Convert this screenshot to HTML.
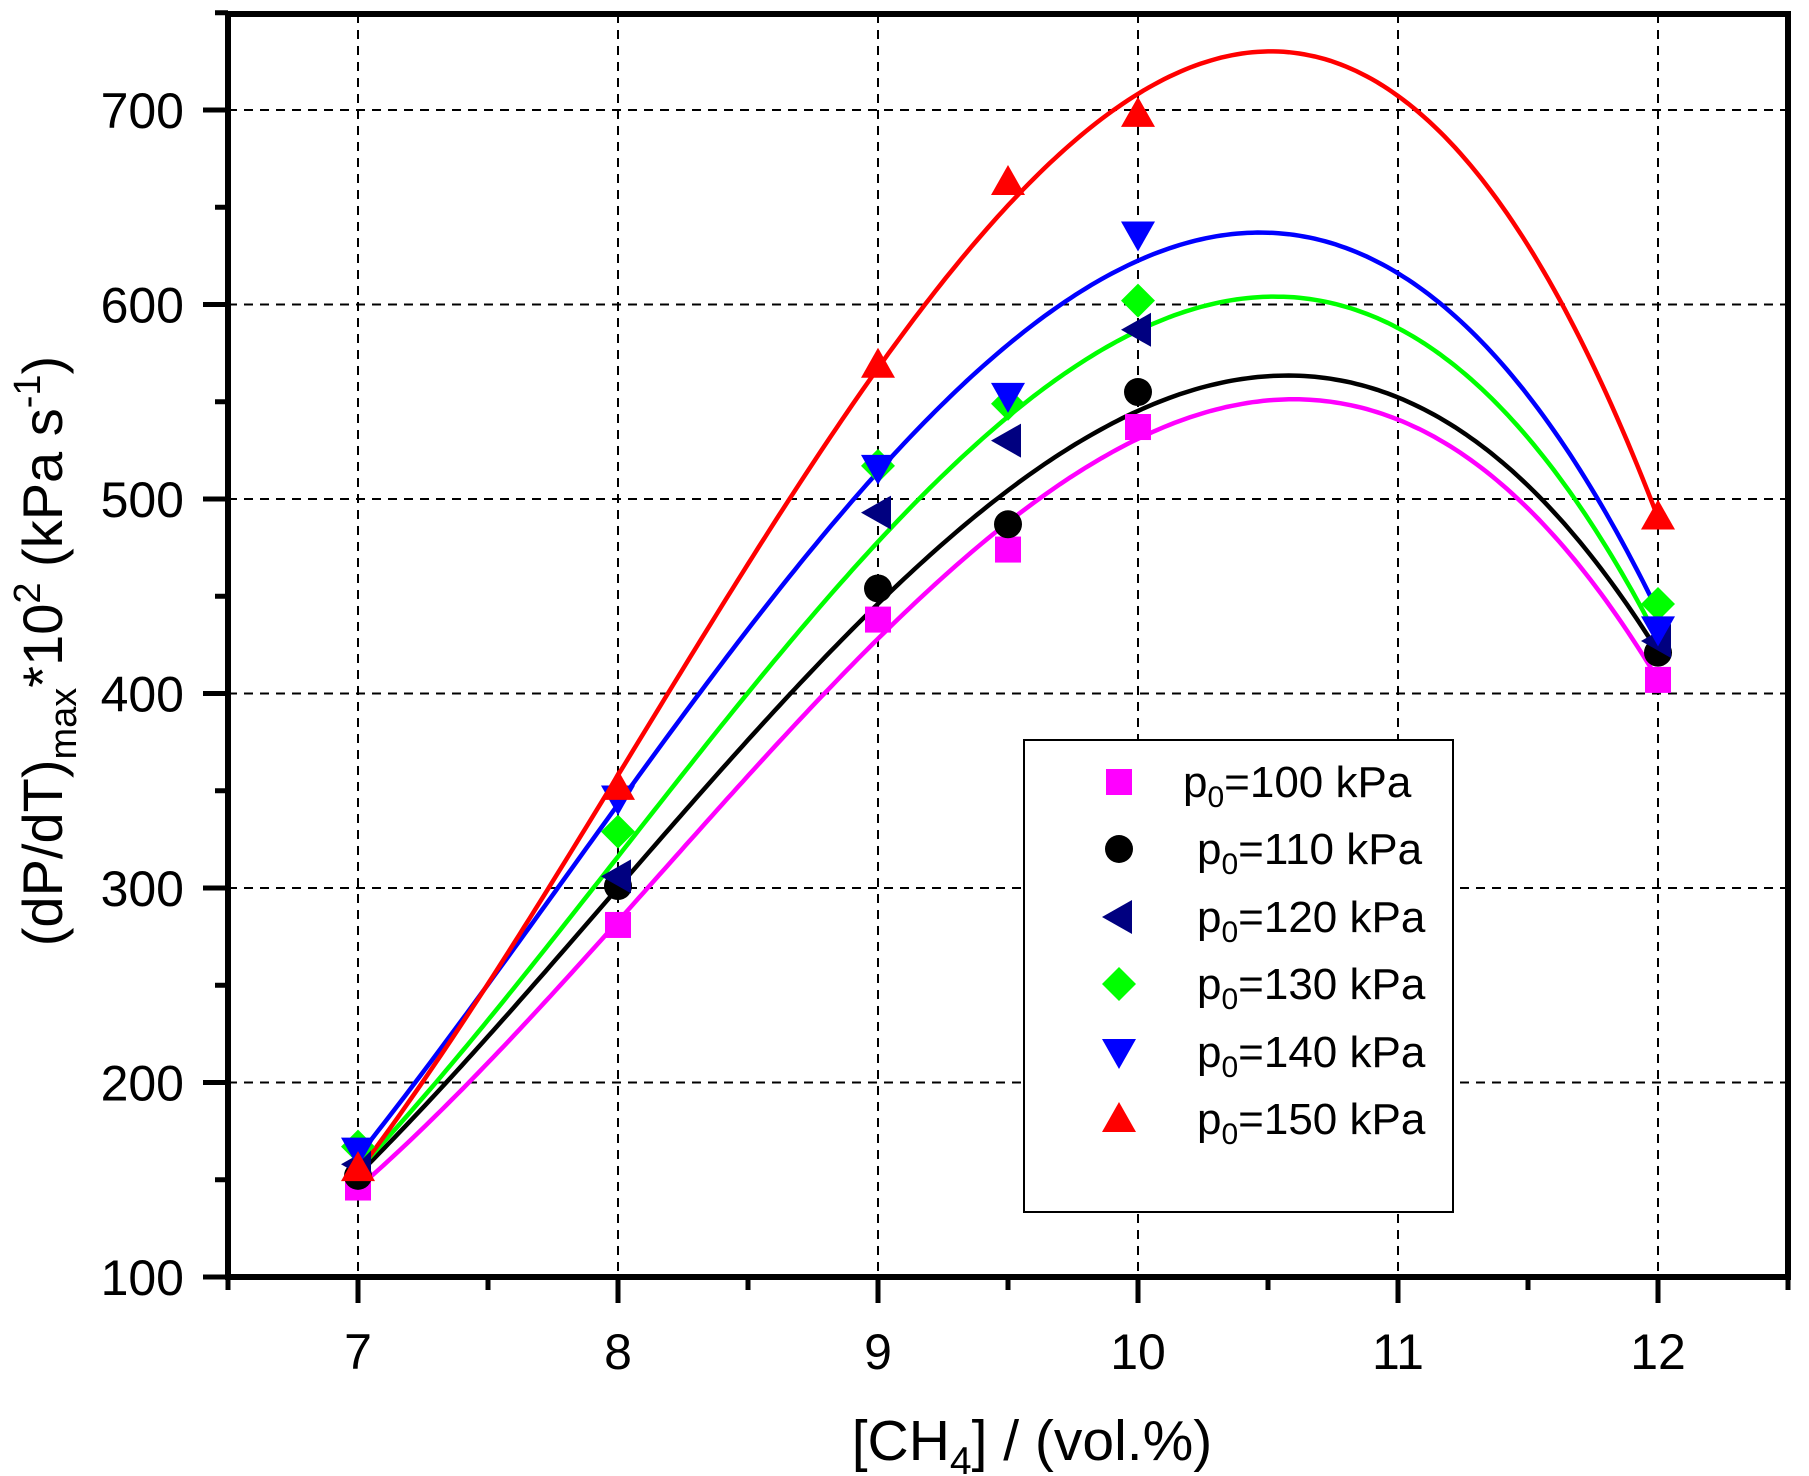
<!DOCTYPE html>
<html><head><meta charset="utf-8"><style>
html,body{margin:0;padding:0;background:#fff}
svg{display:block;font-family:"Liberation Sans",Arial,sans-serif}
</style></head><body>
<svg id="s" width="1809" height="1476" viewBox="0 0 1809 1476" xmlns="http://www.w3.org/2000/svg">
<rect width="1809" height="1476" fill="#fff"/>
<g id="grid" stroke="#000" stroke-width="2" stroke-dasharray="9,7"></g>
<g id="curves" fill="none" stroke-width="4.5"></g>
<g id="marks"></g>
<g id="axes" stroke="#000" stroke-width="6" fill="none"></g>
<g id="lbl" font-size="50" fill="#000"></g>
<text x="1032" y="1460" font-size="57" text-anchor="middle">[CH<tspan font-size="39" dy="14">4</tspan><tspan dy="-14">] / (vol.%)</tspan></text>
<text transform="translate(62,651) rotate(-90)" font-size="56" text-anchor="middle">(dP/dT)<tspan font-size="38" dy="14">max</tspan><tspan dy="-14">*10</tspan><tspan font-size="38" dy="-22">2</tspan><tspan dy="22"> (kPa s</tspan><tspan font-size="38" dy="-22">-1</tspan><tspan dy="22">)</tspan></text>
<rect x="1024" y="740" width="429" height="472" fill="#fff" stroke="#000" stroke-width="2"/>
<g id="leg" font-size="44"></g>
</svg>
<script>
const NS="http://www.w3.org/2000/svg";
const X=v=>358+(v-7)*260, Y=v=>1277-(v-100)*1.945;
function el(p,t,a){const e=document.createElementNS(NS,t);for(const k in a)e.setAttribute(k,a[k]);document.getElementById(p).appendChild(e);return e;}
for(let v=7;v<=12;v++)el("grid","line",{x1:X(v),x2:X(v),y1:14,y2:1277});
for(let v=200;v<=700;v+=100)el("grid","line",{x1:228,x2:1788,y1:Y(v),y2:Y(v)});
el("axes","path",{d:"M228,14H1788V1277H228Z"});
for(let v=7;v<=12;v++){el("axes","line",{x1:X(v),x2:X(v),y1:1277,y2:1303,"stroke-width":5});
 const t=el("lbl","text",{x:X(v),y:1369,"text-anchor":"middle"});t.textContent=v;}
for(let v=7.5;v<=12.5;v+=1)el("axes","line",{x1:X(v),x2:X(v),y1:1277,y2:1290,"stroke-width":5});
el("axes","line",{x1:228,x2:228,y1:1277,y2:1290,"stroke-width":5});
for(let v=100;v<=700;v+=100){el("axes","line",{x1:203,x2:228,y1:Y(v),y2:Y(v),"stroke-width":5});
 const t=el("lbl","text",{x:184,y:Y(v)+18,"text-anchor":"end"});t.textContent=v;}
for(let v=150;v<=750;v+=100)el("axes","line",{x1:215,x2:228,y1:Y(v),y2:Y(v),"stroke-width":5});
const xs=[7,8,9,9.5,10,12];
const S=[
 {c:"#ff00ff",m:"sq",d:[146,281,438,474,537,407],l:"100",tx:1183},
 {c:"#000000",m:"ci",d:[152,301,454,487,555,421],l:"110",tx:1197},
 {c:"#000080",m:"lt",d:[158,306,493,530,587,427],l:"120",tx:1197,nocurve:1},
 {c:"#00ff00",m:"di",d:[167,329,517,549,602,446],l:"130",tx:1197,fx:[7,9,10.5,12],fy:[155,478,604,428]},
 {c:"#0000ff",m:"dt",d:[165,346,516,553,636,433],l:"140",tx:1197,fx:[7,9,10.47,12],fy:[162,514,637,442]},
 {c:"#ff0000",m:"ut",d:[156,352,569,663,698,491],l:"150",tx:1197}];
function fit(xa,y){const n=4,A=[],b=[];for(let i=0;i<n;i++){A.push(new Array(n).fill(0));b.push(0);}
 xa.forEach((x,k)=>{const u=x-10;for(let i=0;i<n;i++){b[i]+=y[k]*u**i;for(let j=0;j<n;j++)A[i][j]+=u**(i+j);}});
 for(let i=0;i<n;i++){for(let r=i+1;r<n;r++){const f=A[r][i]/A[i][i];for(let j=i;j<n;j++)A[r][j]-=f*A[i][j];b[r]-=f*b[i];}}
 const c=new Array(n);for(let i=n-1;i>=0;i--){let s=b[i];for(let j=i+1;j<n;j++)s-=A[i][j]*c[j];c[i]=s/A[i][i];}return c;}
function mk(g,m,cx,cy,col){
 if(m=="sq")el(g,"rect",{x:cx-13,y:cy-13,width:26,height:26,fill:col});
 else if(m=="ci")el(g,"circle",{cx,cy,r:14,fill:col});
 else if(m=="di")el(g,"polygon",{points:`${cx},${cy-17} ${cx+17},${cy} ${cx},${cy+17} ${cx-17},${cy}`,fill:col});
 else if(m=="ut")el(g,"polygon",{points:`${cx},${cy-17} ${cx+17},${cy+13} ${cx-17},${cy+13}`,fill:col});
 else if(m=="dt")el(g,"polygon",{points:`${cx},${cy+17} ${cx+17},${cy-13} ${cx-17},${cy-13}`,fill:col});
 else if(m=="lt")el(g,"polygon",{points:`${cx-17},${cy} ${cx+13},${cy-17} ${cx+13},${cy+17}`,fill:col});}
S.forEach(s=>{if(s.nocurve)return;const c=s.fx?fit(s.fx,s.fy):fit(xs,s.d);let d="";for(let x=7;x<=12.0001;x+=0.02){const u=x-10;const y=c[0]+c[1]*u+c[2]*u*u+c[3]*u*u*u;d+=(d?"L":"M")+X(x).toFixed(1)+","+Y(y).toFixed(1);}
 el("curves","path",{d,stroke:s.c});});
S.forEach(s=>s.d.forEach((v,i)=>mk("marks",s.m,X(xs[i]),Y(v),s.c)));
const ly=[782,849,917,984,1052,1119];
S.forEach((s,i)=>{mk("leg",s.m,1119,ly[i],s.c);const t=el("leg","text",{x:s.tx,y:ly[i]+15});
 t.innerHTML=`p<tspan font-size="30" dy="10">0</tspan><tspan dy="-10">=${s.l} kPa</tspan>`;});
</script>
</body></html>
